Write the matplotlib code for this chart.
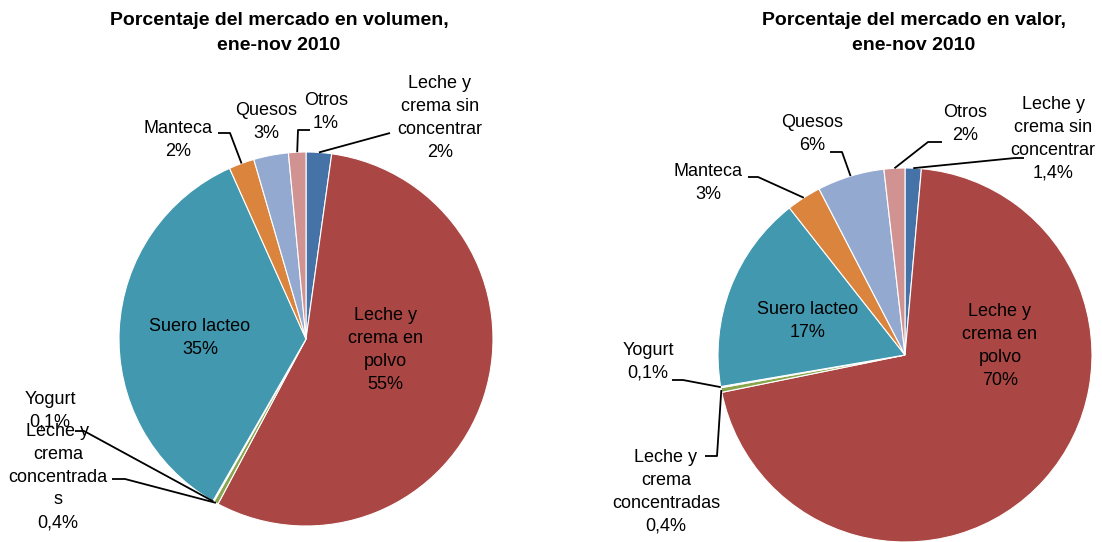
import numpy as np
import matplotlib.pyplot as plt

plt.rcParams['font.family'] = ['Liberation Sans', 'DejaVu Sans']

categories = ['Leche y crema sin concentrar', 'Leche y crema en polvo',
              'Leche y crema concentradas', 'Yogurt', 'Suero lacteo',
              'Manteca', 'Quesos', 'Otros']
volumen = [2.2, 55.6, 0.4, 0.1, 35.0, 2.2, 3.0, 1.5]
valor = [1.4, 70.4, 0.4, 0.1, 17.1, 3.0, 5.8, 1.8]

labels_volumen = ['Leche y\ncrema sin\nconcentrar\n2%', 'Leche y\ncrema en\npolvo\n55%',
                  'Leche y\ncrema\nconcentrada\ns\n0,4%', 'Yogurt\n0,1%',
                  'Suero lacteo\n35%', 'Manteca\n2%', 'Quesos\n3%', 'Otros\n1%']
labels_valor = ['Leche y\ncrema sin\nconcentrar\n1,4%', 'Leche y\ncrema en\npolvo\n70%',
                'Leche y\ncrema\nconcentradas\n0,4%', 'Yogurt\n0,1%',
                'Suero lacteo\n17%', 'Manteca\n3%', 'Quesos\n6%', 'Otros\n2%']

colors = ['#4572A7', '#AA4643', '#89A54E', '#71588F',
          '#4198AF', '#DB843D', '#93A9CF', '#D19392']

W, H = 1102, 542
fig = plt.figure(figsize=(W / 100, H / 100), dpi=100)
ax = fig.add_axes([0, 0, 1, 1])
ax.set_xlim(0, W)
ax.set_ylim(0, H)
ax.set_aspect('equal')
ax.axis('off')

R = 187


def draw_pie(values, labels, center, title, title_x, label_pos, leaders):
    cx, cy = center[0], H - center[1]
    wedges, _ = ax.pie(values, colors=colors, startangle=90, counterclock=False,
                       center=(cx, cy), radius=R, frame=True,
                       wedgeprops=dict(edgecolor='white', linewidth=0.8))
    ax.set_xlim(0, W)
    ax.set_ylim(0, H)
    ax.axis('off')
    ax.text(title_x, H - 33, title, ha='center', va='center', fontsize=14,
            fontweight='bold', linespacing=1.55)
    for i, lab in enumerate(labels):
        x, y = label_pos[i]
        ax.text(x, H - y, lab, ha='center', va='center', fontsize=13,
                linespacing=1.45)
    # leader lines from slice edge (mid-angle) through elbow points
    for i, pts in leaders.items():
        w = wedges[i]
        ang = np.deg2rad((w.theta1 + w.theta2) / 2)
        ex, ey = cx + R * np.cos(ang), cy + R * np.sin(ang)
        xs = [ex] + [p[0] for p in pts]
        ys = [ey] + [H - p[1] for p in pts]
        ax.plot(xs, ys, color='black', lw=1.3, solid_capstyle='butt')


pos_vol = [(440, 118), (385, 350), (58, 477), (50, 411),
           (200, 338), (178, 140), (266, 122), (326, 112)]
lead_vol = {0: [(390, 133)],
            2: [(125, 479), (112, 479)],
            3: [(84, 431), (75, 431)],
            5: [(230, 133), (218, 133)],
            7: [(298, 130), (310, 130)]}

pos_val = [(1053, 139), (1000, 346), (666, 492), (648, 362),
           (808, 321), (708, 183), (812, 134), (965, 124)]
lead_val = {0: [(1015, 158), (1024, 158)],
            2: [(717, 456), (705, 456)],
            3: [(683, 380), (672, 380)],
            5: [(758, 177), (748, 177)],
            6: [(842, 152), (830, 152)],
            7: [(928, 142), (942, 142)]}

draw_pie(volumen, labels_volumen, (306, 339),
         'Porcentaje del mercado en volumen,\nene-nov 2010', 279, pos_vol, lead_vol)
draw_pie(valor, labels_valor, (905, 355),
         'Porcentaje del mercado en valor,\nene-nov 2010', 914, pos_val, lead_val)

fig.savefig('out.png', dpi=100)
